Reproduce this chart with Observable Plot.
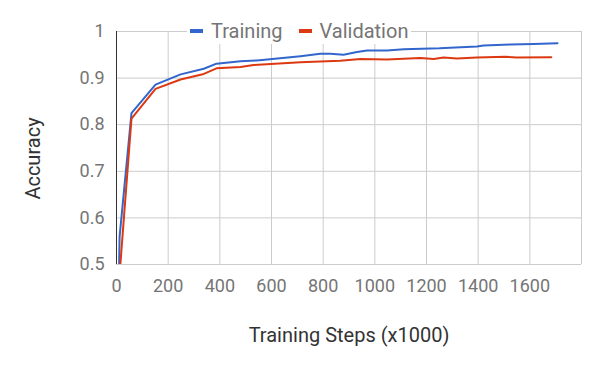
<!DOCTYPE html>
<html>
<head>
<meta charset="utf-8">
<script src="https://cdn.jsdelivr.net/npm/d3@7"></script>
<script src="https://cdn.jsdelivr.net/npm/@observablehq/plot@0.6"></script>
<style>
  html, body { margin: 0; padding: 0; background: #fff; }
  #wrap { position: relative; width: 600px; height: 371px; font-family: Roboto, sans-serif; }
  #legend { position: absolute; top: 18px; left: 187px; background: #fff; display: flex; align-items: center;
            font-size: 20px; color: #757575; height: 26px; padding: 0 3px; }
  .sw { display: inline-block; width: 13px; height: 4px; margin-right: 8px; }
  .item { display: flex; align-items: center; }
  .item + .item { margin-left: 16px; }
</style>
</head>
<body>
<div id="wrap"><div id="legend"></div></div>
<script>
const seriesNames = ["Training", "Validation"];
const seriesColors = ["#3366cc", "#dc3912"];

const trainSteps = [7, 12, 58, 151, 248, 338, 387, 480, 544, 712, 789, 828, 879, 931, 970, 1047, 1112, 1250, 1395, 1421, 1524, 1614, 1707];
const trainAcc   = [0.40, 0.56, 0.825, 0.886, 0.908, 0.920, 0.931, 0.936, 0.938, 0.947, 0.952, 0.952, 0.950, 0.956, 0.959, 0.959, 0.962, 0.964, 0.968, 0.970, 0.972, 0.973, 0.975];

const valSteps = [8, 58, 151, 248, 338, 387, 480, 531, 712, 763, 866, 944, 1047, 1176, 1228, 1266, 1318, 1395, 1505, 1550, 1683];
const valAcc   = [0.45, 0.813, 0.877, 0.897, 0.909, 0.921, 0.924, 0.928, 0.934, 0.935, 0.937, 0.941, 0.940, 0.943, 0.941, 0.944, 0.942, 0.944, 0.946, 0.944, 0.945];

const xTicks = [0, 200, 400, 600, 800, 1000, 1200, 1400, 1600];
const xGrid = [200, 400, 600, 800, 1000, 1200, 1400, 1600, 1800];
const yTicks = [0.5, 0.6, 0.7, 0.8, 0.9, 1];
const xTitle = "Training Steps (x1000)";
const yTitle = "Accuracy";

const train = trainSteps.map((s, i) => ({step: s, acc: trainAcc[i]}));
const val = valSteps.map((s, i) => ({step: s, acc: valAcc[i]}));

const chart = Plot.plot({
  width: 600,
  height: 371,
  marginLeft: 116,
  marginRight: 19,
  marginTop: 31,
  marginBottom: 107,
  style: {fontFamily: "Roboto, sans-serif", color: "#757575", background: "#fff"},
  x: {domain: [0, 1800]},
  y: {domain: [0.5, 1]},
  marks: [
    Plot.ruleX(xGrid, {stroke: "#cccccc", strokeWidth: 1}),
    Plot.ruleY(yTicks, {stroke: "#cccccc", strokeWidth: 1}),
    Plot.ruleX([0], {stroke: "#333333", strokeWidth: 1}),
    Plot.axisX({ticks: xTicks, tickSize: 0, tickPadding: 15, fontSize: 18, tickFormat: d => String(d), label: null}),
    Plot.axisY({ticks: yTicks, tickSize: 0, tickPadding: 12, fontSize: 18, tickFormat: d => String(d), label: null}),
    Plot.line(train, {x: "step", y: "acc", stroke: seriesColors[0], strokeWidth: 2, clip: true}),
    Plot.line(val, {x: "step", y: "acc", stroke: seriesColors[1], strokeWidth: 2, clip: true}),
    Plot.text([xTitle], {frameAnchor: "bottom", dy: 77, fontSize: 20, fill: "#333333"}),
    Plot.text([yTitle], {frameAnchor: "left", textAnchor: "middle", dx: -83, dy: 10.5, rotate: -90, fontSize: 20, fill: "#333333"})
  ]
});
document.getElementById("wrap").prepend(chart);

const legend = document.getElementById("legend");
seriesNames.forEach((n, i) => {
  const it = document.createElement("span");
  it.className = "item";
  const sw = document.createElement("span");
  sw.className = "sw";
  sw.style.background = seriesColors[i];
  it.appendChild(sw);
  it.appendChild(document.createTextNode(n));
  legend.appendChild(it);
});
</script>
</body>
</html>
